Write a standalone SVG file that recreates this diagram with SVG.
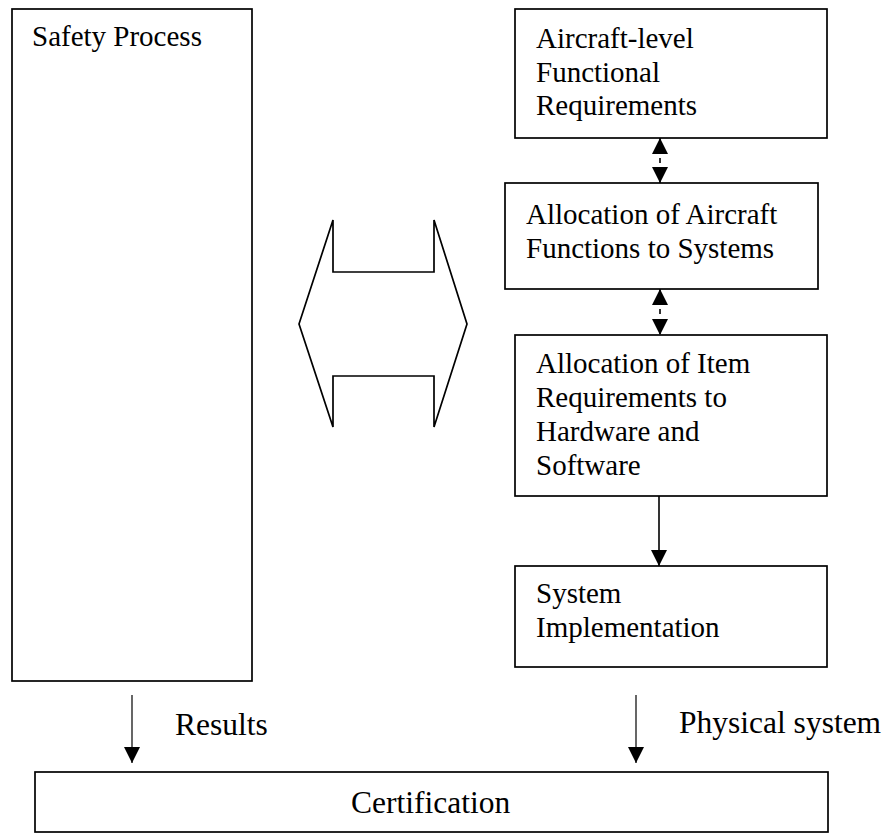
<svg xmlns="http://www.w3.org/2000/svg" width="887" height="834" viewBox="0 0 887 834">
  <style>
    .box { fill: #ffffff; stroke: #000000; stroke-width: 1.7; }
    .lbl { font-family: "Liberation Serif", "Times New Roman", serif; font-size: 29px; fill: #000000; }
    .big { font-size: 31.5px; }
    .link { stroke: #000000; stroke-width: 1.6; fill: none; }
    .thin { stroke: #000000; stroke-width: 1.2; fill: none; }
    .dash { stroke-dasharray: 5 5; }
  </style>
  <defs>
    <marker id="head" markerUnits="userSpaceOnUse" markerWidth="16" markerHeight="16" viewBox="0 0 16 16" refX="16" refY="8" orient="auto-start-reverse">
      <path d="M0,0 L16,8 L0,16 z" fill="#000000"/>
    </marker>
  </defs>

  <rect width="887" height="834" fill="#ffffff"/>

  <g id="safety-process">
    <rect class="box" x="12" y="9" width="240" height="672"/>
    <text class="lbl" x="32" y="46">Safety Process</text>
  </g>

  <g id="exchange-arrow">
    <polygon class="box" points="299,324 333,220 333,272 434,272 434,220 467,324 434,427 434,376 333,376 333,427"/>
  </g>

  <g id="aircraft-requirements">
    <rect class="box" x="515" y="9" width="312" height="129"/>
    <text class="lbl" x="536" y="48">Aircraft-level</text>
    <text class="lbl" x="536" y="82">Functional</text>
    <text class="lbl" x="536" y="115">Requirements</text>
  </g>

  <g id="function-allocation">
    <rect class="box" x="505" y="183" width="313" height="106"/>
    <text class="lbl" x="526" y="224">Allocation of Aircraft</text>
    <text class="lbl" x="526" y="258">Functions to Systems</text>
  </g>

  <g id="item-allocation">
    <rect class="box" x="515" y="335" width="312" height="161"/>
    <text class="lbl" x="536" y="373">Allocation of Item</text>
    <text class="lbl" x="536" y="407">Requirements to</text>
    <text class="lbl" x="536" y="441">Hardware and</text>
    <text class="lbl" x="536" y="475">Software</text>
  </g>

  <g id="system-implementation">
    <rect class="box" x="515" y="566" width="312" height="101"/>
    <text class="lbl" x="536" y="603">System</text>
    <text class="lbl" x="536" y="637">Implementation</text>
  </g>

  <g id="certification">
    <rect class="box" x="35" y="772" width="793" height="60"/>
    <text class="lbl big" x="351" y="813">Certification</text>
  </g>

  <g id="connectors">
    <line class="link dash" x1="660" y1="138" x2="660" y2="183" marker-start="url(#head)" marker-end="url(#head)"/>
    <line class="link dash" x1="660" y1="289" x2="660" y2="335" marker-start="url(#head)" marker-end="url(#head)"/>
    <line class="link" x1="659" y1="496" x2="659" y2="566" marker-end="url(#head)"/>
    <line class="thin" x1="132" y1="695" x2="132" y2="763" marker-end="url(#head)"/>
    <line class="thin" x1="636" y1="695" x2="636" y2="763" marker-end="url(#head)"/>
    <text class="lbl big" x="175" y="735">Results</text>
    <text class="lbl big" x="679" y="733">Physical system</text>
  </g>
</svg>
